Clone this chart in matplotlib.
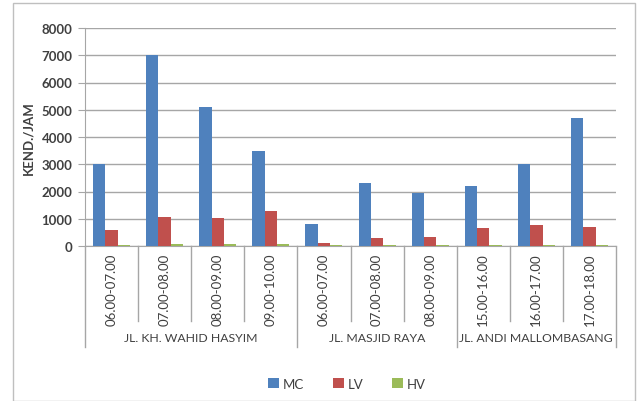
import matplotlib.pyplot as plt
import numpy as np
from matplotlib.patches import Rectangle

plt.rcParams['font.family'] = ['Lato', 'DejaVu Sans']

# hourly counts per period (vehicles/hour)
periods = ['06.00-07.00', '07.00-08.00', '08.00-09.00', '09.00-10.00',
           '06.00-07.00', '07.00-08.00', '08.00-09.00',
           '15.00-16.00', '16.00-17.00', '17.00-18.00']
roads = ['JL. KH. WAHID HASYIM', 'JL. MASJID RAYA', 'JL. ANDI MALLOMBASANG']
road_sizes = [4, 3, 3]
mc = [3000, 7000, 5100, 3500, 820, 2300, 1930, 2220, 3000, 4700]
lv = [580, 1080, 1040, 1300, 100, 290, 330, 650, 760, 710]
hv = [35, 60, 60, 60, 35, 30, 30, 45, 50, 50]

series = [('MC', mc, '#4F81BD'), ('LV', lv, '#C0504D'), ('HV', hv, '#9BBB59')]

fig = plt.figure(figsize=(6.38, 4.02), dpi=100)
ax = fig.add_axes([85 / 638, 1 - 247 / 402, 531 / 638, 218 / 402])

x = np.arange(len(periods))
w = 0.232
for k, (name, vals, col) in enumerate(series):
    ax.bar(x + (k - 1) * w, vals, w, color=col, label=name, zorder=3)

ax.set_xlim(-0.5, len(periods) - 0.5)
ax.set_ylim(0, 8000)
ax.set_yticks(range(0, 8001, 1000))
ax.tick_params(axis='y', length=5, color='#A6A6A6', labelsize=9.5, labelcolor='#404040', pad=4)
for t in ax.get_yticklabels():
    t.set_fontweight('bold')
ax.set_xticks([])
ax.grid(axis='y', color='#A6A6A6', lw=1, zorder=0)
for s in ['top', 'right']:
    ax.spines[s].set_visible(False)
ax.spines['left'].set_color('#A6A6A6')
ax.spines['bottom'].set_color('#A6A6A6')
ax.set_ylabel('KEND./JAM', fontsize=9.5, fontweight='bold', color='#404040', labelpad=5)

# two-level category axis
trans = ax.get_xaxis_transform()
cat_depth = (247 - 322) / 218
grp_depth = (247 - 348) / 218
for i, p in enumerate(periods):
    ax.text(i, (247 - 290) / 218, p, transform=trans, rotation=90, ha='center', va='center',
            fontsize=9.5, color='#404040')
bounds = np.cumsum([0] + road_sizes)
for b in range(1, len(periods)):
    if b not in bounds:
        ax.plot([b - 0.5, b - 0.5], [0, cat_depth], transform=trans, color='#A6A6A6', lw=1, clip_on=False)
for b in bounds:
    ax.plot([b - 0.5, b - 0.5], [0, grp_depth], transform=trans, color='#A6A6A6', lw=1, clip_on=False)
for r, lo, hi in zip(roads, bounds[:-1], bounds[1:]):
    ax.text((lo + hi - 1) / 2, (247 - 339) / 218, r, transform=trans, ha='center', va='center',
            fontsize=8.8, color='#404040')

fig.legend(loc='center', bbox_to_anchor=(347 / 638, 1 - 385 / 402), ncol=3, frameon=False,
           fontsize=9.5, handlelength=0.8, handleheight=0.8, handletextpad=0.3, columnspacing=2.2,
           labelcolor='#404040')

fig.patches.append(Rectangle((13 / 638, 0), 622 / 638, 1 - 4 / 402, transform=fig.transFigure,
                             fill=False, edgecolor='#BFBFBF', lw=1))

fig.savefig('out.png', dpi=100)
